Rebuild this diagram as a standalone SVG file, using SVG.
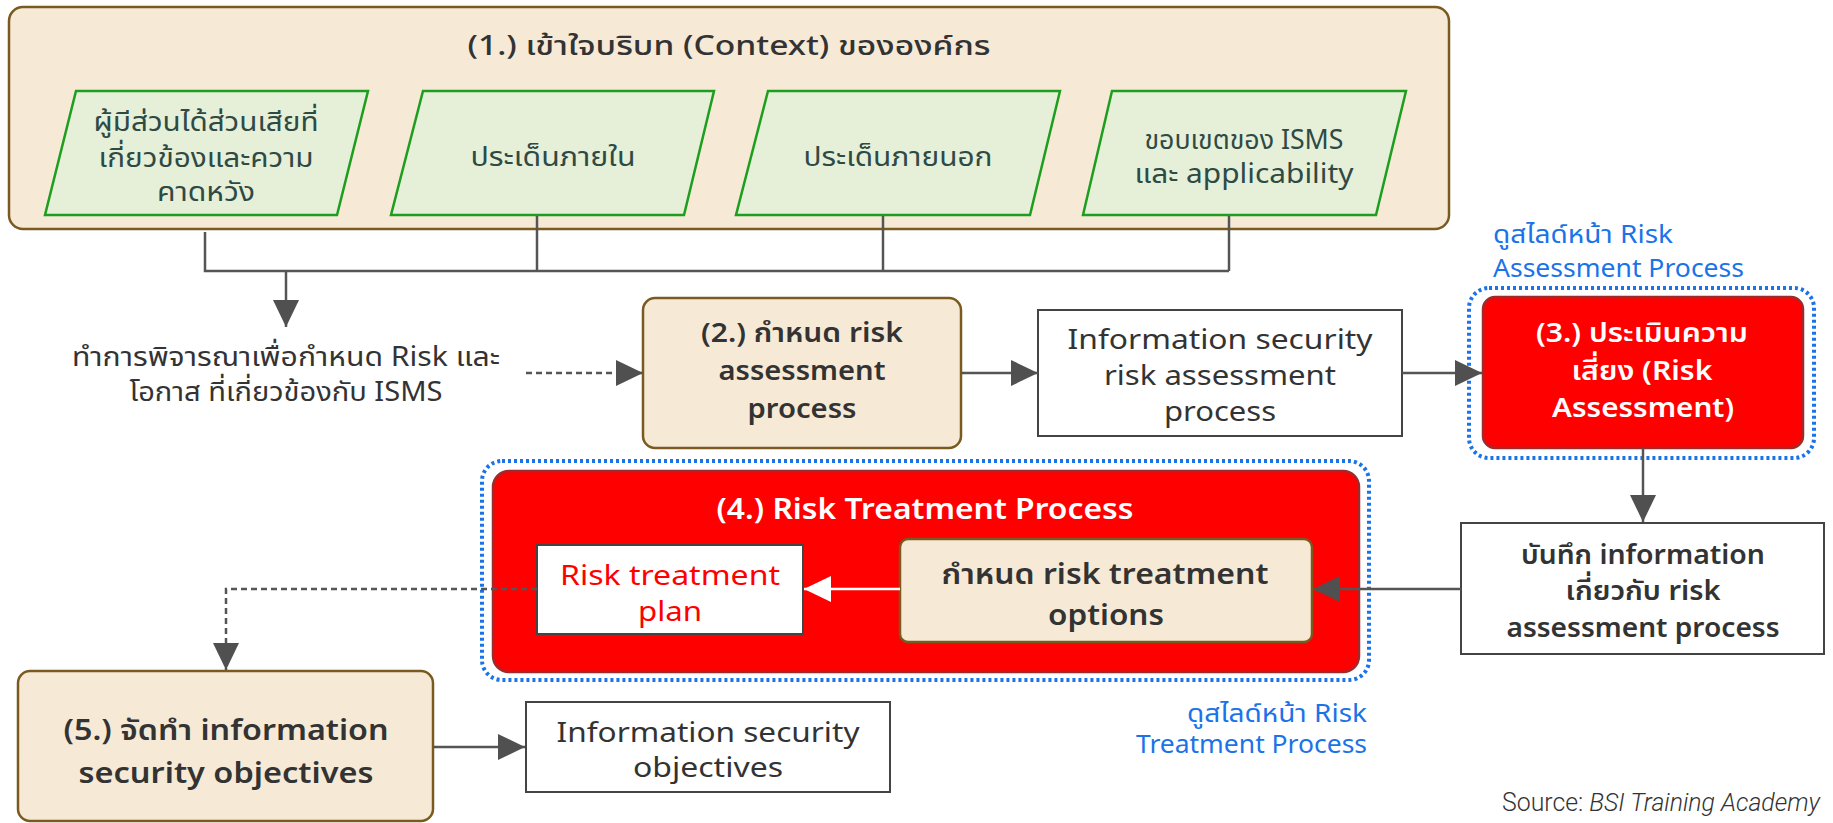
<svg xmlns="http://www.w3.org/2000/svg" width="1833" height="823" viewBox="0 0 1833 823">
  <style>
    text { font-family: "Noto Sans", "Noto Sans Thai", "Noto Sans Thai UI", Loma, Garuda, sans-serif; text-anchor: middle; dominant-baseline: central; }
    .beige { fill: #F6EAD7; stroke: #7A5A1E; stroke-width: 2.5; }
    .para { fill: #E6EFD8; stroke: #1E9E1E; stroke-width: 2.5; }
    .plain { fill: #FFFFFF; stroke: #444444; stroke-width: 2; }
    .red { fill: #FF0000; stroke: #9E2B2B; stroke-width: 2.5; }
    .halo { fill: none; stroke: #1A73E8; stroke-width: 4; stroke-dasharray: 3 3; }
    .para-t { font-size: 27px; fill: #2E4A45; }
    .t { font-size: 27px; fill: #333333; }
    .tb { font-size: 27px; fill: #333333; font-weight: 600; }
    .tw { font-size: 27px; fill: #FFFFFF; font-weight: 600; }
    .link { font-size: 25px; fill: #1A73E8; }
    .edge { fill: none; stroke: #555555; stroke-width: 2.5; }
    .dash { stroke-dasharray: 6 4; }
  </style>
  <defs>
    <marker id="arrow" markerUnits="userSpaceOnUse" markerWidth="28" markerHeight="28" refX="27" refY="13" orient="auto">
      <path d="M0,0 L27,13 L0,26 z" fill="#505050"/>
    </marker>
    <marker id="arrow-white" markerUnits="userSpaceOnUse" markerWidth="28" markerHeight="28" refX="27" refY="13" orient="auto">
      <path d="M0,0 L27,13 L0,26 z" fill="#FFFFFF"/>
    </marker>
  </defs>

  <!-- (1.) context container -->
  <g id="context">
    <rect class="beige" x="9" y="7" width="1440" height="222" rx="14"/>
    <text x="729" y="44" style="font-size:27px;font-weight:500;fill:#333333" textLength="523" lengthAdjust="spacingAndGlyphs">(1.) เข้าใจบริบท (Context) ขององค์กร</text>
  </g>

  <g id="stakeholders">
    <polygon class="para" points="76,91 368,91 337,215 45,215"/>
    <text class="para-t" x="206" y="120" textLength="225" lengthAdjust="spacingAndGlyphs">ผู้มีส่วนได้ส่วนเสียที่</text>
    <text class="para-t" x="206" y="156" textLength="215" lengthAdjust="spacingAndGlyphs">เกี่ยวข้องและความ</text>
    <text class="para-t" x="206" y="190" textLength="98" lengthAdjust="spacingAndGlyphs">คาดหวัง</text>
  </g>
  <g id="internal-issues">
    <polygon class="para" points="423,91 714,91 684,215 391,215"/>
    <text class="para-t" x="553" y="155" textLength="165" lengthAdjust="spacingAndGlyphs">ประเด็นภายใน</text>
  </g>
  <g id="external-issues">
    <polygon class="para" points="768,91 1060,91 1030,215 736,215"/>
    <text class="para-t" x="898" y="155" textLength="189" lengthAdjust="spacingAndGlyphs">ประเด็นภายนอก</text>
  </g>
  <g id="isms-scope">
    <polygon class="para" points="1112,91 1406,91 1376,215 1083,215"/>
    <text class="para-t" x="1244" y="138" textLength="199" lengthAdjust="spacingAndGlyphs">ขอบเขตของ ISMS</text>
    <text class="para-t" x="1244" y="172" textLength="219" lengthAdjust="spacingAndGlyphs">และ applicability</text>
  </g>

  <g id="consider-risk">
    <text class="t" x="286" y="355" textLength="428" lengthAdjust="spacingAndGlyphs">ทำการพิจารณาเพื่อกำหนด Risk และ</text>
    <text class="t" x="286" y="390" textLength="313" lengthAdjust="spacingAndGlyphs">โอกาส ที่เกี่ยวข้องกับ ISMS</text>
  </g>

  <g id="define-ra">
    <rect class="beige" x="643" y="298" width="318" height="150" rx="12"/>
    <text class="tb" x="802" y="331" textLength="202" lengthAdjust="spacingAndGlyphs">(2.) กำหนด risk</text>
    <text class="tb" x="802" y="369" textLength="167" lengthAdjust="spacingAndGlyphs">assessment</text>
    <text class="tb" x="802" y="407" textLength="109" lengthAdjust="spacingAndGlyphs">process</text>
  </g>

  <g id="ra-process-doc">
    <rect class="plain" x="1038" y="310" width="364" height="126"/>
    <text class="t" x="1220" y="338" textLength="305" lengthAdjust="spacingAndGlyphs">Information security</text>
    <text class="t" x="1220" y="374" textLength="232" lengthAdjust="spacingAndGlyphs">risk assessment</text>
    <text class="t" x="1220" y="410" textLength="112" lengthAdjust="spacingAndGlyphs">process</text>
  </g>

  <g id="risk-assessment">
    <rect class="halo" x="1469" y="288" width="345" height="170" rx="20"/>
    <rect class="red" x="1483" y="297" width="320" height="151" rx="12"/>
    <text class="tw" x="1642" y="331" textLength="212" lengthAdjust="spacingAndGlyphs">(3.) ประเมินความ</text>
    <text class="tw" x="1642" y="369" textLength="141" lengthAdjust="spacingAndGlyphs">เสี่ยง (Risk</text>
    <text class="tw" x="1643" y="406" textLength="182" lengthAdjust="spacingAndGlyphs">Assessment)</text>
    <text class="link" x="1493" y="233" style="text-anchor:start" textLength="180" lengthAdjust="spacingAndGlyphs">ดูสไลด์หน้า Risk</text>
    <text class="link" x="1493" y="267" style="text-anchor:start" textLength="251" lengthAdjust="spacingAndGlyphs">Assessment Process</text>
  </g>

  <g id="ra-record">
    <rect class="plain" x="1461" y="523" width="363" height="131"/>
    <text class="tb" x="1643" y="553" textLength="244" lengthAdjust="spacingAndGlyphs">บันทึก information</text>
    <text class="tb" x="1643" y="589" textLength="155" lengthAdjust="spacingAndGlyphs">เกี่ยวกับ risk</text>
    <text class="tb" x="1643" y="626" textLength="273" lengthAdjust="spacingAndGlyphs">assessment process</text>
  </g>

  <g id="risk-treatment">
    <rect class="halo" x="482" y="461" width="887" height="219" rx="20"/>
    <rect class="red" x="493" y="471" width="866" height="201" rx="16"/>
    <text class="tw" x="925" y="507" style="font-size:29px" textLength="417" lengthAdjust="spacingAndGlyphs">(4.) Risk Treatment Process</text>
    <text class="link" x="1367" y="712" style="text-anchor:end" textLength="180" lengthAdjust="spacingAndGlyphs">ดูสไลด์หน้า Risk</text>
    <text class="link" x="1367" y="743" style="text-anchor:end" textLength="231" lengthAdjust="spacingAndGlyphs">Treatment Process</text>
  </g>

  <g id="treatment-options">
    <rect class="beige" x="900" y="539" width="412" height="103" rx="8"/>
    <text class="tb" x="1105" y="572" style="font-size:29px" textLength="327" lengthAdjust="spacingAndGlyphs">กำหนด risk treatment</text>
    <text class="tb" x="1106" y="613" style="font-size:29px" textLength="116" lengthAdjust="spacingAndGlyphs">options</text>
  </g>

  <g id="treatment-plan">
    <rect class="plain" x="537" y="545" width="266" height="89"/>
    <text class="t" x="670" y="574" style="fill:#FF0000" textLength="220" lengthAdjust="spacingAndGlyphs">Risk treatment</text>
    <text class="t" x="670" y="610" style="fill:#FF0000" textLength="64" lengthAdjust="spacingAndGlyphs">plan</text>
  </g>

  <g id="objectives">
    <rect class="beige" x="18" y="671" width="415" height="150" rx="12"/>
    <text class="tb" x="226" y="728" style="font-size:29px" textLength="325" lengthAdjust="spacingAndGlyphs">(5.) จัดทำ information</text>
    <text class="tb" x="226" y="771" style="font-size:29px" textLength="295" lengthAdjust="spacingAndGlyphs">security objectives</text>
  </g>

  <g id="objectives-doc">
    <rect class="plain" x="526" y="702" width="364" height="90"/>
    <text class="t" x="708" y="731" textLength="303" lengthAdjust="spacingAndGlyphs">Information security</text>
    <text class="t" x="708" y="766" textLength="150" lengthAdjust="spacingAndGlyphs">objectives</text>
  </g>

  <g id="source">
    <text x="1502" y="802" style="text-anchor:start;font-family:Roboto,'Liberation Sans',sans-serif;font-size:26px;font-weight:300;fill:#333333" textLength="318" lengthAdjust="spacingAndGlyphs">Source: <tspan font-style="italic">BSI Training Academy</tspan></text>
  </g>

  <!-- connectors -->
  <g id="connectors">
    <polyline class="edge" points="205,232 205,271 1229,271"/>
    <line class="edge" x1="537" y1="216" x2="537" y2="271"/>
    <line class="edge" x1="883" y1="216" x2="883" y2="271"/>
    <line class="edge" x1="1229" y1="216" x2="1229" y2="271"/>
    <line class="edge" x1="286" y1="271" x2="286" y2="327" marker-end="url(#arrow)"/>
    <line class="edge dash" x1="526" y1="373" x2="643" y2="373" marker-end="url(#arrow)"/>
    <line class="edge" x1="961" y1="373" x2="1038" y2="373" marker-end="url(#arrow)"/>
    <line class="edge" x1="1402" y1="373" x2="1482" y2="373" marker-end="url(#arrow)"/>
    <line class="edge" x1="1643" y1="448" x2="1643" y2="522" marker-end="url(#arrow)"/>
    <line class="edge" x1="1461" y1="589" x2="1313" y2="589" marker-end="url(#arrow)"/>
    <line class="edge" x1="900" y1="589" x2="804" y2="589" marker-end="url(#arrow-white)" style="stroke:#FFFFFF"/>
    <polyline class="edge dash" points="537,589 226,589 226,670" marker-end="url(#arrow)"/>
    <line class="edge" x1="433" y1="747" x2="525" y2="747" marker-end="url(#arrow)"/>
  </g>
</svg>
